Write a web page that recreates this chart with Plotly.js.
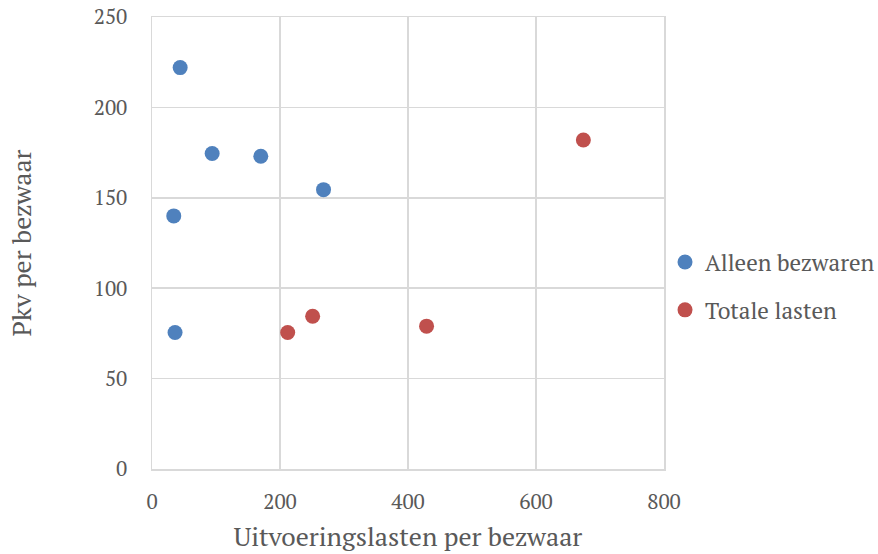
<!DOCTYPE html>
<html>
<head>
<meta charset="utf-8">
<script src="https://cdn.plot.ly/plotly-3.0.1.min.js"></script>
<style>html,body{margin:0;padding:0;background:#fff;}#chart{width:878px;height:554px;}</style>
</head>
<body>
<div id="chart"></div>
<script>
const seriesNames = ["Alleen bezwaren", "Totale lasten"];
const alleenX = [44, 94, 170, 268, 34, 36];
const alleenY = [222, 174.5, 173, 154.5, 140, 75.5];
const totaalX = [212, 251, 429, 674];
const totaalY = [75.5, 84.5, 79, 182];
const xTitle = "Uitvoeringslasten per bezwaar";
const yTitle = "Pkv per bezwaar";

const FONT = "'PT Serif', 'Liberation Serif', 'DejaVu Serif', serif";
const traces = [
  {x: alleenX, y: alleenY, name: seriesNames[0], mode: "markers", type: "scatter",
   legendgroup: "a", marker: {size: 15, color: "#4F81BD"}},
  {x: totaalX, y: totaalY, name: seriesNames[1], mode: "markers", type: "scatter",
   legendgroup: "b", marker: {size: 15, color: "#C0504D"}}
];
const axisCommon = {
  showgrid: true, gridcolor: "#d9d9d9", gridwidth: 1.5,
  showline: true, linecolor: "#d9d9d9", linewidth: 1.5, mirror: true,
  zeroline: false, ticks: "", tickfont: {family: FONT, size: 21, color: "#595959"},
  fixedrange: true, automargin: false
};
const layout = {
  width: 878, height: 554,
  margin: {l: 152, r: 214, t: 17, b: 85, autoexpand: false},
  paper_bgcolor: "#fff", plot_bgcolor: "#fff",
  font: {family: FONT, color: "#595959"},
  showlegend: true,
  legend: {x: 1.002, xanchor: "left", y: 0.5055, yanchor: "top",
    font: {family: FONT, size: 23, color: "#595959"},
    traceorder: "grouped", tracegroupgap: 15, itemwidth: 30, bgcolor: "rgba(0,0,0,0)"},
  xaxis: Object.assign({}, axisCommon, {range: [0, 800], dtick: 200, tick0: 0,
    ticklabelstandoff: 13,
    title: {text: xTitle, font: {family: FONT, size: 26, color: "#595959"}, standoff: 14}}),
  yaxis: Object.assign({}, axisCommon, {range: [0, 250], dtick: 50, tick0: 0,
    ticklabelstandoff: 19,
    title: {text: yTitle, font: {family: FONT, size: 26, color: "#595959"}, standoff: 54}})
};
Plotly.newPlot("chart", traces, layout, {displayModeBar: false, staticPlot: true});
</script>
</body>
</html>
